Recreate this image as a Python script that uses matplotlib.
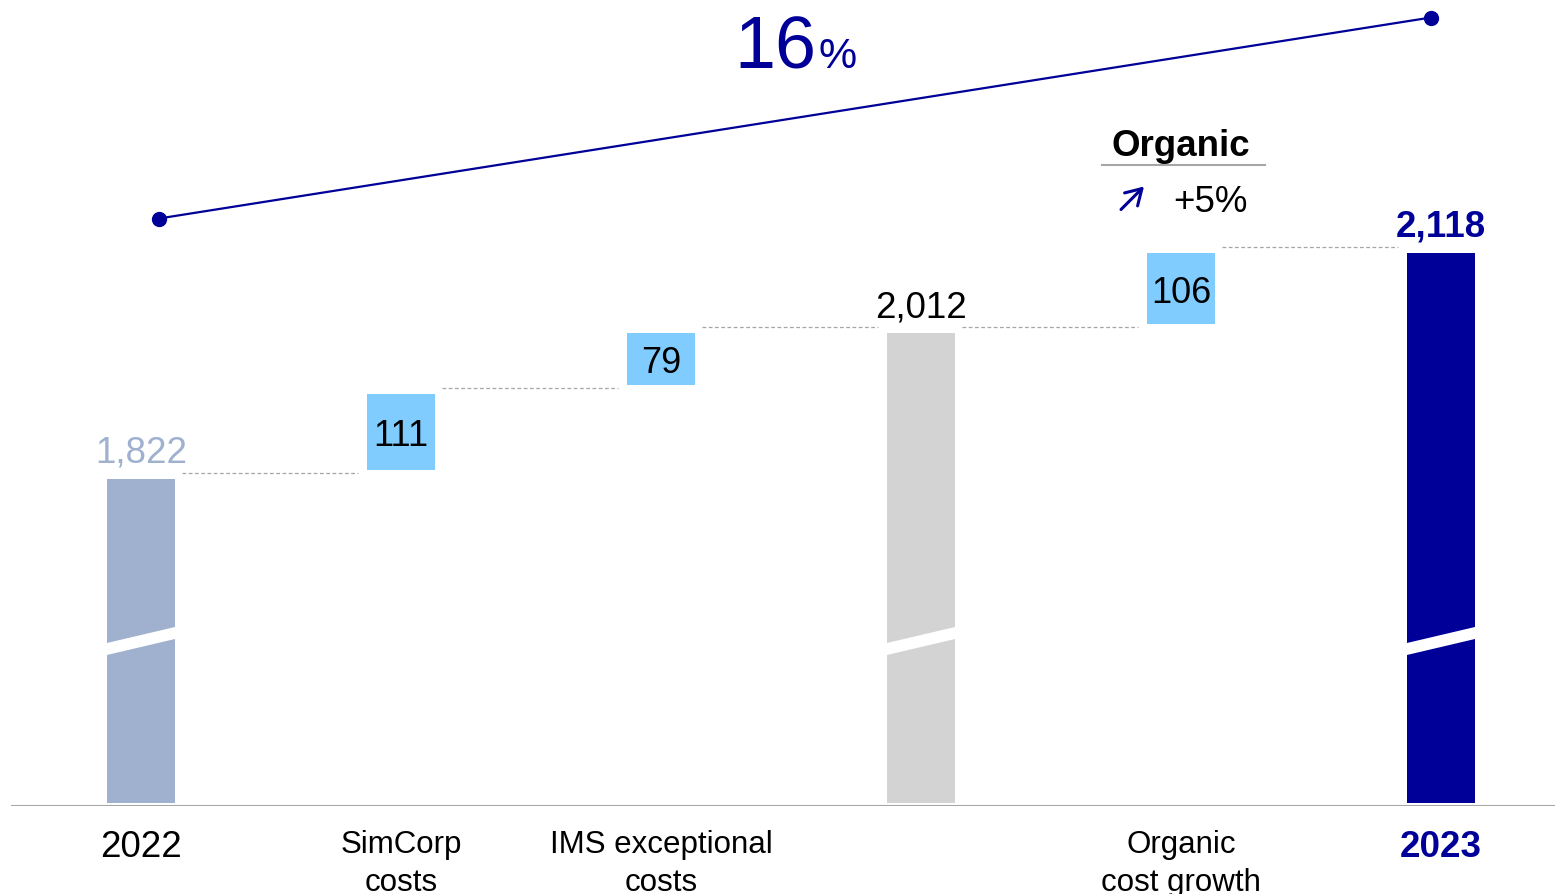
import matplotlib

matplotlib.use("Agg")

import matplotlib.pyplot as plt
from matplotlib.patches import Polygon

plt.rcParams["font.family"] = ["Liberation Sans", "DejaVu Sans"]

# data
categories = ["2022", "SimCorp\ncosts", "IMS exceptional\ncosts", "", "Organic\ncost growth", "2023"]
kinds = ["total", "step", "step", "total", "step", "total"]
values = [1822, 111, 79, 2012, 106, 2118]
value_labels = ["1,822", "111", "79", "2,012", "106", "2,118"]
growth_label = "16"
organic_label = "+5%"

NAVY = "#000099"
START_C = "#9FB1CF"
STEP_C = "#80CCFF"
SUB_C = "#D3D3D3"
GRID = "#A6A6A6"

BASE = 1394
TOP = 2448
W = 0.258
PX = 0.7637  # pixels per unit

fig = plt.figure(figsize=(15.55, 8.95), dpi=100)
ax = fig.add_axes([0, 88.5 / 895, 1, 805 / 895])
ax.set_xlim(-141 / 260, (1555 - 141) / 260)
ax.set_ylim(BASE, TOP)
ax.axis("off")

bar_colors = [START_C, STEP_C, STEP_C, SUB_C, STEP_C, NAVY]
gap = 9 / PX
running = 0
levels = []
for i, (kind, v) in enumerate(zip(kinds, values)):
    if kind == "total":
        ax.bar(i, v - BASE - 2 / PX, bottom=BASE + 2 / PX, width=W, color=bar_colors[i], zorder=2)
        running = v
        # broken-axis band
        xl, xr = i - W / 2 - 0.01, i + W / 2 + 0.01
        cl, cr = BASE + 156 / PX, BASE + 173 / PX
        h = 6 / PX
        ax.add_patch(Polygon([(xl, cl - h), (xr, cr - h), (xr, cr + h), (xl, cl + h)],
                             closed=True, color="white", zorder=3, lw=0))
    else:
        ax.bar(i, v - gap, bottom=running + gap, width=W, color=bar_colors[i], zorder=2)
        ax.text(i, running + gap + (v - gap) / 2 - 3.5 / PX, value_labels[i], ha="center",
                va="center", fontsize=26, color="black", zorder=4)
        running += v
    levels.append(running)

# labels above totals
top_styles = {0: dict(color=START_C), 3: dict(color="black"), 5: dict(color=NAVY, fontweight="bold")}
for i, st in top_styles.items():
    ax.annotate(value_labels[i], (i, values[i]), xytext=(0, 12.5), textcoords="offset points",
                ha="center", va="baseline", fontsize=26.5, **st)

# connectors
for i in range(len(levels) - 1):
    ax.hlines(levels[i] + 6 / PX, i + W / 2 + 0.03, i + 1 - W / 2 - 0.035,
              colors=GRID, linestyles=(0, (3, 2)), lw=0.9, zorder=1)

# baseline
ax.axhline(BASE, xmin=12 / 1555, xmax=1, color=GRID, lw=1.5, zorder=5)

# category labels
xt = ax.get_xaxis_transform()
for i, cat in enumerate(categories):
    if not cat:
        continue
    if "\n" in cat:
        ax.text(i, -24 / 805, cat, transform=xt, ha="center", va="top", fontsize=22.5,
                linespacing=1.33)
    elif i == len(categories) - 1:
        ax.text(i, -41 / 805, cat, transform=xt, ha="center", va="center", fontsize=26.5,
                color=NAVY, fontweight="bold")
    else:
        ax.text(i, -41 / 805, cat, transform=xt, ha="center", va="center", fontsize=26.5)

# growth line
ax.plot([159 / 1555, 1431 / 1555], [(805 - 218) / 805, (805 - 17) / 805], transform=ax.transAxes,
        color=NAVY, lw=1.6, marker="o", markersize=10, clip_on=False, zorder=6)
ax.text(816 / 1555, (805 - 67) / 805, growth_label, transform=ax.transAxes, ha="right",
        va="baseline", fontsize=53, color=NAVY)
ax.text(818 / 1555, (805 - 67) / 805, "%", transform=ax.transAxes, ha="left",
        va="baseline", fontsize=31, color=NAVY)

# organic box
ax.text(1181 / 1555, (805 - 155) / 805, "Organic", transform=ax.transAxes, ha="center",
        va="baseline", fontsize=26.5, fontweight="bold")
ax.plot([1102 / 1555, 1265 / 1555], [(805 - 164) / 805] * 2, transform=ax.transAxes,
        color=GRID, lw=1.5)
ax.annotate("", xy=(1144 / 1555, (805 - 186) / 805), xytext=(1121 / 1555, (805 - 209) / 805),
            xycoords="axes fraction", textcoords="axes fraction",
            arrowprops=dict(arrowstyle="->,head_length=0.5,head_width=0.3", color=NAVY, lw=2.2,
                            mutation_scale=22, shrinkA=0, shrinkB=0))
ax.text(1210 / 1555, (805 - 211) / 805, organic_label, transform=ax.transAxes, ha="center",
        va="baseline", fontsize=26.5)

fig.savefig("out.png", dpi=100)
